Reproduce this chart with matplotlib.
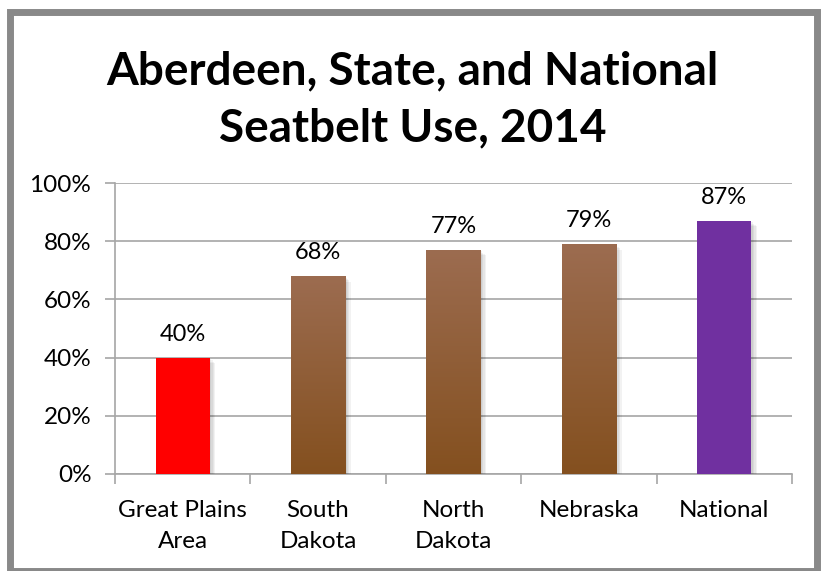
import matplotlib
matplotlib.use("Agg")
import matplotlib.pyplot as plt
import matplotlib.patheffects as pe
from matplotlib.colors import LinearSegmentedColormap
from matplotlib.patches import Rectangle
import numpy as np

categories = ["Great Plains\nArea", "South\nDakota", "North\nDakota", "Nebraska", "National"]
values = [40, 68, 77, 79, 87]
styles = ["red", "brown", "brown", "brown", "purple"]
yticks = [0, 20, 40, 60, 80, 100]

plt.rcParams['font.family'] = ['Lato', 'DejaVu Sans']

fig = plt.figure(figsize=(8.25, 5.71), dpi=100)
fig.patch.set_facecolor('white')

# gray frame round the chart area
fig.patches.append(Rectangle((0.0125, 0.0), 0.9775, 0.9795, transform=fig.transFigure,
                             fill=False, edgecolor='#898989', linewidth=5.0))

fig.text(0.5, 0.875, "Aberdeen, State, and National", ha='center', va='center',
         fontsize=33, fontweight='bold')
fig.text(0.5, 0.775, "Seatbelt Use, 2014", ha='center', va='center',
         fontsize=33, fontweight='bold')

ax = fig.add_axes([0.1394, 0.1699, 0.8206, 0.5096])
x = np.arange(len(categories))

brown = LinearSegmentedColormap.from_list('brown', ['#84501f', '#9c6c50'])
flat = {"red": "#ff0000", "purple": "#7030a0", "brown": "#8a5428"}

# soft drop shadow under every bar
shadow = [pe.SimplePatchShadow(offset=(d, -d), shadow_rgbFace='black', alpha=0.05)
          for d in (1, 2, 3, 4)] + [pe.Normal()]

bars = ax.bar(x, values, width=0.4, color=[flat[s] for s in styles], zorder=3)
for bar, s in zip(bars, styles):
    bar.set_path_effects(shadow)
    if s == "brown":
        x0, w, h = bar.get_x(), bar.get_width(), bar.get_height()
        grad = np.linspace(0, 1, 256).reshape(-1, 1)
        im = ax.imshow(grad, cmap=brown, origin='lower', aspect='auto',
                       extent=(x0, x0 + w, 0, h), zorder=4)
        im.set_clip_path(bar)

for xi, v in zip(x, values):
    ax.text(xi, v + 4.5, f"{v}%", ha='center', va='bottom', fontsize=17)

ax.set_xlim(-0.5, len(categories) - 0.5)
ax.set_ylim(0, 100)
ax.set_yticks(yticks)
ax.set_yticklabels([f"{t}%" for t in yticks], fontsize=17.5)
ax.set_xticks(x)
ax.set_xticklabels(categories, fontsize=17.5, linespacing=1.55)
ax.set_xticks(np.arange(-0.5, len(categories)), minor=True)

ax.grid(axis='y', color='#a6a6a6', linewidth=1.2, zorder=0)
ax.set_axisbelow(True)
for side in ('top', 'right'):
    ax.spines[side].set_visible(False)
for side in ('left', 'bottom'):
    ax.spines[side].set_color('#a6a6a6')
    ax.spines[side].set_linewidth(1.2)

ax.tick_params(axis='y', length=7, color='#a6a6a6', width=1.2, pad=10)
ax.tick_params(axis='x', which='major', length=0, pad=19)
ax.tick_params(axis='x', which='minor', length=7, color='#a6a6a6', width=1.2)

fig.savefig("out.png", dpi=100)
